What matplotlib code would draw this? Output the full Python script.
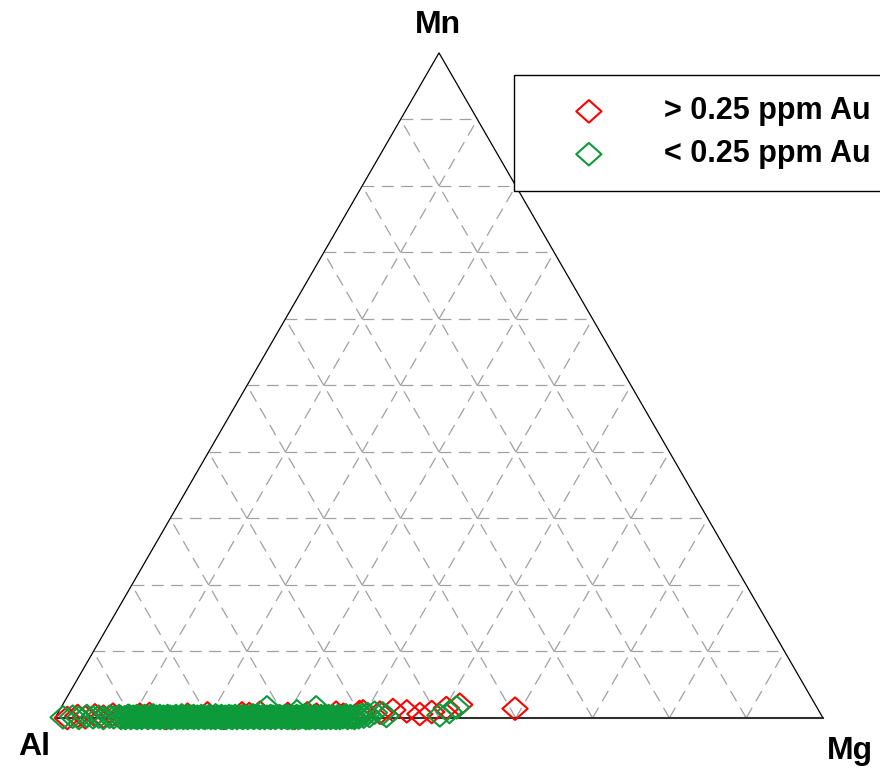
import numpy as np
import matplotlib
matplotlib.use("Agg")
import matplotlib.pyplot as plt
from matplotlib.path import Path
from matplotlib.collections import LineCollection
from matplotlib.font_manager import FontProperties

# ---------------------------------------------------------------------------
# Sample compositions, % of (Al + Mg + Mn).  Al is the remainder.
# ---------------------------------------------------------------------------
corner_labels = ["Al", "Mg", "Mn"]
legend_labels = ["> 0.25 ppm Au", "< 0.25 ppm Au"]
grid_levels = [10, 20, 30, 40, 50, 60, 70, 80, 90]

# samples above 0.25 ppm Au
hi_mg = [1.6, 2.8, 3.9, 5.0, 6.2, 7.3, 8.5, 9.4, 10.8,
         12.0, 14.5, 17.0, 19.5, 22.0, 24.0, 25.0, 26.3, 28.0, 30.0,
         31.2, 32.5, 33.8, 35.0, 36.2, 37.3, 38.4, 39.2,
         39.6, 41.9, 43.4, 45.3, 47.2, 48.6, 50.2, 51.7, 59.2]
hi_mn = [0.0, 0.3, 0.1, 0.4, 0.2, 0.5, 0.1, 0.3, 0.5,
         0.6, 0.0, 0.5, 0.7, 0.0, 0.7, 0.6, 0.8, 0.2, 0.6,
         0.0, 0.7, 0.5, 0.3, 0.8, 0.5, 0.2, 0.9,
         1.0, 0.8, 1.2, 1.0, 0.6, 0.9, 1.5, 2.0, 1.4]

# samples below 0.25 ppm Au
lo_mg = [1.0, 2.2, 3.1, 4.0, 4.9, 5.6, 6.3, 7.0, 7.6, 8.2, 8.6,
         9.0, 9.2, 9.3, 9.5, 9.8, 9.9, 10.1, 10.4, 10.5, 10.7,
         10.9, 11.2, 11.3, 11.5, 11.7, 12.0, 12.1, 12.3, 12.6, 12.7,
         12.9, 13.1, 13.4, 13.5, 13.7, 14.0, 14.1, 14.3, 14.5, 14.8,
         14.9, 15.1, 15.3, 15.6, 15.7, 15.9, 16.2, 16.3, 16.5, 16.7,
         17.0, 17.1, 17.3, 17.6, 17.7, 17.9, 18.1, 18.4, 18.5, 18.7,
         18.9, 19.2, 19.3, 19.5, 19.8, 19.9, 20.1, 20.3, 20.6, 20.7,
         20.9, 21.1, 21.4, 21.5, 21.7, 22.0, 22.1, 22.3, 22.5, 22.8,
         22.9, 23.1, 23.3, 23.6, 23.7, 23.9, 24.2, 24.3, 24.5, 24.7,
         25.0, 25.1, 25.3, 25.6, 25.7, 25.9, 26.1, 26.4, 26.5, 26.7,
         26.9, 27.2, 27.3, 27.5, 27.8, 27.9, 28.1, 28.3, 28.6, 28.7,
         28.9, 29.1, 29.4, 29.5, 29.7, 30.0, 30.1, 30.3, 30.5, 30.8,
         30.9, 31.1, 31.3, 31.6, 31.7, 31.9, 32.2, 32.3, 32.5, 32.7,
         33.0, 33.1, 33.3, 33.6, 33.7, 33.9, 34.1, 34.4, 34.5, 34.7,
         34.9, 35.2, 35.3, 35.5, 35.8, 35.9, 36.1, 36.3, 36.6, 36.7,
         36.9, 37.1, 37.4, 37.5, 37.7, 38.0, 38.1, 38.3, 38.6, 38.8,
         39.0, 39.3, 39.5, 39.8, 40.1, 40.4, 40.8, 41.2,
         26.8, 31.0, 33.2, 42.3, 43.0, 49.9, 50.9, 51.5]
lo_mn = [0.1, 0.2, 0.0, 0.3, 0.1, 0.2, 0.0, 0.2, 0.1, 0.3, 0.0,
         0.1, 0.0, 0.2, 0.3, 0.1, 0.0, 0.2, 0.1, 0.3, 0.0,
         0.2, 0.1, 0.0, 0.3, 0.2, 0.1, 0.0, 0.2, 0.4, 0.1,
         0.0, 0.2, 0.1, 0.3, 0.0, 0.2, 0.1, 0.0, 0.3, 0.1,
         0.2, 0.0, 0.1, 0.3, 0.2, 0.0, 0.1, 0.4, 0.2, 0.0,
         0.1, 0.3, 0.0, 0.2, 0.1, 0.3, 0.0, 0.2, 0.1, 0.0,
         0.3, 0.1, 0.2, 0.0, 0.1, 0.3, 0.2, 0.0, 0.1, 0.4,
         0.0, 0.2, 0.1, 0.3, 0.0, 0.1, 0.2, 0.0, 0.3, 0.1,
         0.2, 0.0, 0.3, 0.1, 0.0, 0.2, 0.1, 0.3, 0.0, 0.2,
         0.1, 0.0, 0.2, 0.4, 0.1, 0.0, 0.3, 0.1, 0.2, 0.0,
         0.3, 0.1, 0.0, 0.2, 0.1, 0.3, 0.0, 0.2, 0.1, 0.0,
         0.2, 0.3, 0.1, 0.0, 0.2, 0.1, 0.3, 0.0, 0.1, 0.2,
         0.0, 0.1, 0.3, 0.2, 0.0, 0.1, 0.2, 0.4, 0.1, 0.0,
         0.2, 0.0, 0.1, 0.3, 0.1, 0.0, 0.2, 0.1, 0.3, 0.0,
         0.1, 0.2, 0.0, 0.3, 0.1, 0.0, 0.2, 0.1, 0.0, 0.3,
         0.2, 0.0, 0.1, 0.2, 0.4, 0.1, 0.0, 0.3, 0.1, 0.2,
         0.0, 0.3, 0.1, 0.5, 0.2, 0.6, 0.3, 0.8,
         1.6, 1.0, 1.6, 0.7, 0.3, 0.4, 0.9, 1.6]

H = np.sqrt(3) / 2


def ternary_xy(mg, mn):
    """Al at (0, 0), Mg at (1, 0), Mn at the apex."""
    mg = np.asarray(mg, float) / 100.0
    mn = np.asarray(mn, float) / 100.0
    return mg + mn / 2.0, mn * H


# ---------------------------------------------------------------------------
fig = plt.figure(figsize=(8.8, 7.68), dpi=100)
ax = fig.add_axes([0, 0, 1, 1])
ax.set_xlim(-55 / 768, 825 / 768)
ax.set_ylim(-50 / 768, 718 / 768)
ax.set_aspect("equal")
ax.axis("off")

# dashed grid, one short dashed segment between neighbouring nodes
segs = []
for lvl in grid_levels:
    c = lvl / 100.0
    n = int(round((1 - c) * 10))
    step = 0.1
    # constant Mn
    for i in range(n):
        a = (c / 2 + i * step, c * H)
        b = (c / 2 + (i + 1) * step, c * H)
        segs.append([a, b])
    # constant Mg
    for i in range(n):
        a = (c + i * step / 2, i * step * H)
        b = (c + (i + 1) * step / 2, (i + 1) * step * H)
        segs.append([a, b])
    # constant Al
    for i in range(n):
        a = ((1 - c) - i * step / 2, i * step * H)
        b = ((1 - c) - (i + 1) * step / 2, (i + 1) * step * H)
        segs.append([a, b])
grid = LineCollection(segs, colors="#a0a0a0", linewidths=0.9,
                      linestyles=[(0, (9.5, 6.0))], zorder=1)
ax.add_collection(grid)

# triangle outline
ax.plot([0, 0.5, 1], [0, H, 0], color="black", lw=0.9, zorder=2)
ax.plot([0, 1], [0, 0], color="#303030", lw=1.5, zorder=2)

# diamond marker, slightly wider than tall
diamond = Path([(-1.12, 0), (0, 1), (1.12, 0), (0, -1), (-1.12, 0)],
               [Path.MOVETO, Path.LINETO, Path.LINETO, Path.LINETO,
                Path.CLOSEPOLY])

hx, hy = ternary_xy(hi_mg, hi_mn)
lx, ly = ternary_xy(lo_mg, lo_mn)
hi = ax.scatter(hx, hy, s=330, marker=diamond, facecolors="none",
                edgecolors="#ff0000", linewidths=1.5, zorder=3,
                label=legend_labels[0])
lo = ax.scatter(lx, ly, s=330, marker=diamond, facecolors="none",
                edgecolors="#0c9a3a", linewidths=1.5, zorder=4,
                label=legend_labels[1])

# corner labels
font_kw = dict(family="Liberation Sans", fontweight="bold", fontsize=23,
               color="black", ha="center", va="center")
ax.annotate(corner_labels[0], xy=(0, 0), xytext=(-21, -29),
            textcoords="offset pixels", **font_kw)
ax.annotate(corner_labels[1], xy=(1, 0), xytext=(27, -33),
            textcoords="offset pixels", **font_kw)
ax.annotate(corner_labels[2], xy=(0.5, H), xytext=(-1, 28),
            textcoords="offset pixels", **font_kw)

leg = ax.legend(handles=[hi, lo], labels=legend_labels, loc="upper left",
                bbox_to_anchor=(514 / 880, 1 - 75 / 768),
                bbox_transform=fig.transFigure, borderaxespad=0,
                frameon=True, fancybox=False, framealpha=1,
                edgecolor="black", scatterpoints=1,
                prop=FontProperties(family="Liberation Sans",
                                    weight="bold", size=22),
                handlelength=3.5, handletextpad=0.7, borderpad=0.7,
                labelspacing=0.42)
leg.get_frame().set_linewidth(1.0)

fig.savefig("out.png", dpi=100)
